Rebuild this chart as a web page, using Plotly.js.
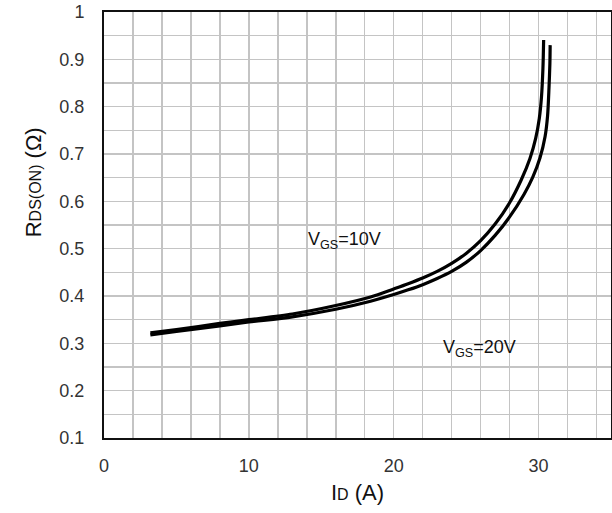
<!DOCTYPE html>
<html>
<head>
<meta charset="utf-8">
<script src="https://cdn.plot.ly/plotly-3.0.1.min.js"></script>
<style>html,body{margin:0;padding:0;background:#fff;}</style>
</head>
<body>
<div id="chart" style="width:612px;height:513px;"></div>
<script>
// I_D (A) and R_DS(ON) (Ohm)
const id10 = [3.2, 5, 8, 10, 13, 16, 18.4, 20, 21, 22, 23, 24, 25, 26, 27, 28, 28.8, 29.4, 29.8, 30.05, 30.2, 30.3, 30.35];
const r10  = [0.322, 0.329, 0.342, 0.350, 0.362, 0.380, 0.398, 0.415, 0.426, 0.438, 0.452, 0.469, 0.490, 0.517, 0.552, 0.597, 0.645, 0.690, 0.733, 0.775, 0.820, 0.880, 0.941];
const id20 = [3.2, 5, 8, 10, 13, 16, 18.4, 20, 21, 22, 23, 24, 25, 26, 27, 28, 29, 29.6, 30.1, 30.45, 30.62, 30.72, 30.78, 30.8];
const r20  = [0.318, 0.325, 0.337, 0.345, 0.356, 0.372, 0.389, 0.403, 0.413, 0.424, 0.437, 0.452, 0.471, 0.496, 0.528, 0.567, 0.615, 0.651, 0.692, 0.737, 0.780, 0.840, 0.890, 0.930];
const labels = ['V<sub>GS</sub>=10V', 'V<sub>GS</sub>=20V'];
const labelX = [16.6, 25.9];
const labelY = [0.518, 0.290];

const font = 'Liberation Sans, Arial, sans-serif';
const traces = [
  {x: id10, y: r10, mode: 'lines', line: {color: '#000', width: 3.2, shape: 'spline', smoothing: 0.8}, name: labels[0], hoverinfo: 'x+y'},
  {x: id20, y: r20, mode: 'lines', line: {color: '#000', width: 3.2, shape: 'spline', smoothing: 0.8}, name: labels[1], hoverinfo: 'x+y'}
];
const layout = {
  width: 612, height: 513,
  margin: {l: 104, r: 1, t: 12, b: 75},
  paper_bgcolor: '#fff', plot_bgcolor: '#fff',
  showlegend: false,
  font: {family: font, color: '#222'},
  xaxis: {
    range: [0, 35], dtick: 10, tick0: 0,
    showgrid: true, gridcolor: '#c4c4c4', gridwidth: 1.5,
    minor: {dtick: 2, showgrid: true, gridcolor: '#c4c4c4', gridwidth: 1.5},
    showline: true, mirror: true, linecolor: '#111', linewidth: 2,
    ticks: '', ticklabelstandoff: 10, zeroline: false,
    tickfont: {size: 18, family: font, color: '#333'},
    title: {text: 'I<span style="font-size:16px">D</span> (A)', font: {size: 22, family: font, color: '#111'}, standoff: 10}
  },
  yaxis: {
    range: [0.1, 1], dtick: 0.1, tick0: 0.1,
    showgrid: true, gridcolor: '#c4c4c4', gridwidth: 1.5,
    minor: {dtick: 0.05, showgrid: true, gridcolor: '#c4c4c4', gridwidth: 1.5},
    showline: true, mirror: true, linecolor: '#111', linewidth: 2,
    ticks: '', ticklabelstandoff: 14, zeroline: false,
    tickfont: {size: 18, family: font, color: '#333'}
  },
  annotations: [
    {x: labelX[0], y: labelY[0], xref: 'x', yref: 'y', text: labels[0], showarrow: false, font: {size: 18, family: font, color: '#111'}},
    {x: labelX[1], y: labelY[1], xref: 'x', yref: 'y', text: labels[1], showarrow: false, font: {size: 18, family: font, color: '#111'}},
    {x: -0.166, y: 0.601, xref: 'paper', yref: 'paper', text: 'R<span style="font-size:16px">DS(ON)</span> (Ω)', textangle: -90, showarrow: false, font: {size: 22, family: font, color: '#111'}}
  ]
};
Plotly.newPlot('chart', traces, layout, {displayModeBar: false, staticPlot: true});
</script>
</body>
</html>
